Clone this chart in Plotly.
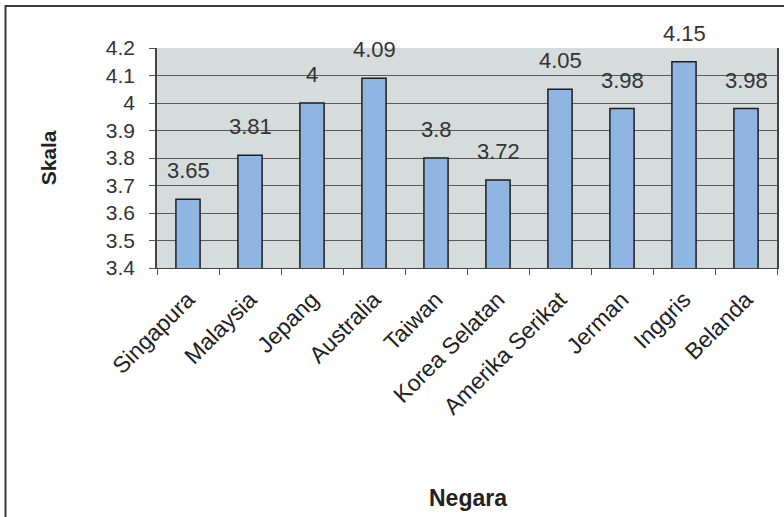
import plotly.graph_objects as go

# Country categories and their scale scores
negara = ["Singapura", "Malaysia", "Jepang", "Australia", "Taiwan",
          "Korea Selatan", "Amerika Serikat", "Jerman", "Inggris", "Belanda"]
skala = [3.65, 3.81, 4.0, 4.09, 3.8, 3.72, 4.05, 3.98, 4.15, 3.98]
label_teks = ["3.65", "3.81", "4", "4.09", "3.8", "3.72", "4.05", "3.98", "4.15", "3.98"]

y_ticks = [3.4, 3.5, 3.6, 3.7, 3.8, 3.9, 4.0, 4.1, 4.2]
y_tick_text = ["3.4", "3.5", "3.6", "3.7", "3.8", "3.9", "4", "4.1", "4.2"]

W, H = 784, 517
L, R, T, B = 157, 5, 48, 249
pw, ph = W - L - R, H - T - B

FONT = "Liberation Sans, Arial"

fig = go.Figure(go.Bar(
    x=negara,
    y=skala,
    marker=dict(color="#8fb5e3", line=dict(color="#1e1e1e", width=1.5)),
    width=0.39,
))

# value labels sitting above each bar
for cat, val, txt in zip(negara, skala, label_teks):
    fig.add_annotation(x=cat, y=val, text=txt, showarrow=False,
                       xanchor="center", yanchor="bottom", yshift=14,
                       font=dict(family=FONT, size=22, color="#333333"))

# outer chart border, expressed in paper units relative to the plot area
def px_to_paper_x(px):
    return (px - L) / pw

def px_to_paper_y(py):
    return (H - B - py) / ph

fig.add_shape(type="rect", xref="paper", yref="paper",
              x0=px_to_paper_x(5), x1=px_to_paper_x(800),
              y0=px_to_paper_y(540), y1=px_to_paper_y(6),
              line=dict(color="#3a3a3a", width=2), fillcolor="rgba(0,0,0,0)",
              layer="below")

# axis titles
fig.add_annotation(xref="paper", yref="paper",
                   x=px_to_paper_x(469), y=px_to_paper_y(498),
                   text="<b>Negara</b>", showarrow=False,
                   xanchor="center", yanchor="middle",
                   font=dict(family=FONT, size=23, color="#222222"))
fig.add_annotation(xref="paper", yref="paper",
                   x=px_to_paper_x(48), y=px_to_paper_y(158),
                   text="<b>Skala</b>", showarrow=False, textangle=-90,
                   xanchor="center", yanchor="middle",
                   font=dict(family=FONT, size=21, color="#222222"))

fig.update_layout(
    width=W, height=H,
    margin=dict(l=L, r=R, t=T, b=B),
    paper_bgcolor="white",
    plot_bgcolor="#d5dcdb",
    showlegend=False,
    font=dict(family=FONT, color="#222222"),
    xaxis=dict(
        tickangle=-45,
        tickfont=dict(size=23, color="#222222"),
        ticks="outside", ticklen=6, tickcolor="#555555",
        tickson="boundaries",
        ticklabelstandoff=8,
        showline=True, linecolor="#444444", linewidth=1,
    ),
    yaxis=dict(
        range=[3.4, 4.2],
        tickvals=y_ticks, ticktext=y_tick_text,
        tickfont=dict(size=21, color="#333333"),
        ticks="outside", ticklen=6, tickcolor="#555555",
        ticklabelstandoff=10,
        showgrid=True, gridcolor="#5a5a5a", gridwidth=1,
        showline=True, linecolor="#444444", linewidth=1.5,
        mirror=True,
    ),
)

fig.write_html("out.html")
